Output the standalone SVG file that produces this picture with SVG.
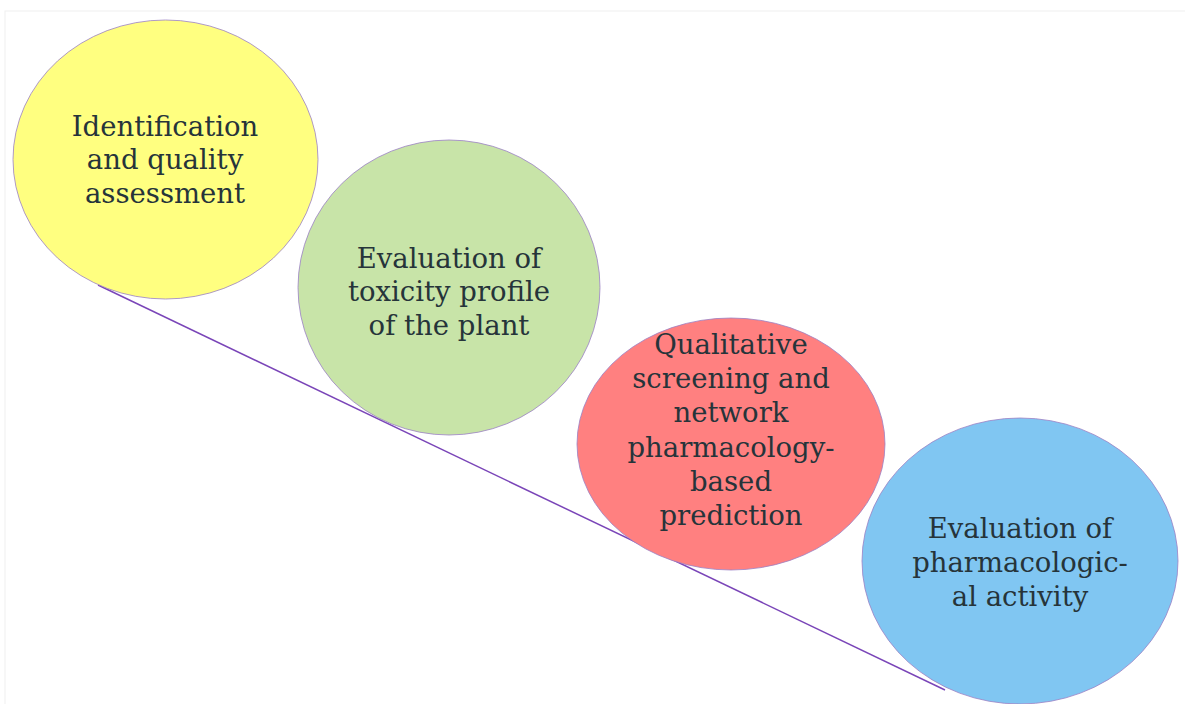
<svg xmlns="http://www.w3.org/2000/svg" width="1185" height="704" viewBox="0 0 1185 704">
<style>
.n ellipse{stroke:#9a80c4;stroke-width:0.8}
.n text{font-family:"DejaVu Serif","Liberation Serif",serif;font-size:27.5px;fill:#26343a;text-anchor:middle}
</style>
<rect x="0" y="0" width="1185" height="704" fill="#ffffff"/>
<rect x="5" y="11" width="1185" height="700" fill="none" stroke="#f0f0f0" stroke-width="1"/>
<g id="connectors">
<line x1="98" y1="285" x2="945" y2="690" stroke="#7a45b8" stroke-width="1.5"/>
</g>
<g id="n1" class="n">
<ellipse cx="165.5" cy="159.5" rx="152.5" ry="139.5" fill="#ffff80"/>
<text x="165" y="136">Identification</text>
<text x="165" y="169">and quality</text>
<text x="165" y="203">assessment</text>
</g>
<g id="n2" class="n">
<ellipse cx="449" cy="287.5" rx="151" ry="147.5" fill="#c8e4a8"/>
<text x="449" y="268">Evaluation of</text>
<text x="449" y="301">toxicity profile</text>
<text x="449" y="335">of the plant</text>
</g>
<g id="n3" class="n">
<ellipse cx="731" cy="444" rx="154" ry="126" fill="#ff8080"/>
<text x="731" y="354">Qualitative</text>
<text x="731" y="388">screening and</text>
<text x="731" y="422">network</text>
<text x="731" y="457">pharmacology-</text>
<text x="731" y="491">based</text>
<text x="731" y="525">prediction</text>
</g>
<g id="n4" class="n">
<ellipse cx="1020" cy="561" rx="158" ry="143" fill="#80c6f2"/>
<text x="1020" y="538">Evaluation of</text>
<text x="1020" y="572">pharmacologic-</text>
<text x="1020" y="606">al activity</text>
</g>
</svg>
